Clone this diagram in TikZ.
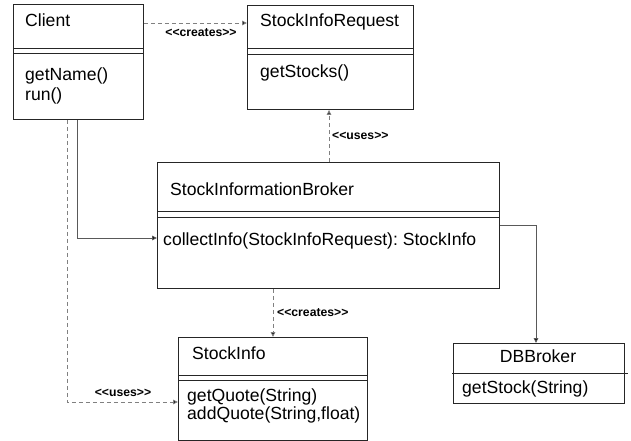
\documentclass[tikz,border=0pt]{standalone}
\usepackage{fontspec}
\setmainfont{Liberation Sans}
\usetikzlibrary{arrows.meta}
\frenchspacing
\begin{document}
\begin{tikzpicture}[x=1pt,y=-1pt,
  box/.style={draw=black!85, line width=0.9pt, inner sep=0pt, anchor=north west},
  sep/.style={draw=black!85, line width=0.9pt},
  txt/.style={anchor=base west, inner sep=0pt, font=\fontsize{17.6}{20}\selectfont},
  ctxt/.style={anchor=base, inner sep=0pt, font=\fontsize{17.6}{20}\selectfont},
  lbl/.style={inner sep=0pt, font=\bfseries\fontsize{12.2}{14}\selectfont},
  dep/.style={draw=black!50, line width=0.9pt, dash pattern=on 4pt off 3pt,
    -{Triangle[length=5pt,width=4.5pt,fill=black]}},
  assoc/.style={draw=black!65, line width=0.9pt,
    -{Triangle[length=5pt,width=4.5pt,fill=black]}}
]
\useasboundingbox (0,0) rectangle (631,441);

% class boxes
\node[box, minimum width=130, minimum height=115] (client) at (13,4) {};
\node[box, minimum width=166, minimum height=104] (sir) at (247,5) {};
\node[box, minimum width=342, minimum height=126] (sib) at (157,162) {};
\node[box, minimum width=189, minimum height=103] (si) at (178,337) {};
\node[box, minimum width=171, minimum height=60] (db) at (453,343) {};

% compartment separators
\draw[sep] (client.west |- 0,48) -- (client.east |- 0,48);
\draw[sep] (client.west |- 0,53) -- (client.east |- 0,53);
\draw[sep] (sir.west |- 0,48) -- (sir.east |- 0,48);
\draw[sep] (sir.west |- 0,54) -- (sir.east |- 0,54);
\draw[sep] (sib.west |- 0,211) -- (sib.east |- 0,211);
\draw[sep] (sib.west |- 0,217) -- (sib.east |- 0,217);
\draw[sep] (si.west |- 0,375) -- (si.east |- 0,375);
\draw[sep] (si.west |- 0,380) -- (si.east |- 0,380);
\draw[sep] ([xshift=-1pt]db.west |- 0,373) -- ([xshift=3pt]db.east |- 0,373);

% names and operations
\node[txt] (clientname) at (25,27) {Client};
\node[txt] (clientop1) at (25,81) {getName()};
\node[txt] (clientop2) at (25,100) {run()};
\node[txt] (sirname) at (260,27) {StockInfoRequest};
\node[txt] (sirop1) at (260,78) {getStocks()};
\node[txt] (sibname) at (170,195) {StockInformationBroker};
\node[txt] (sibop1) at (163,245) {collectInfo(StockInfoRequest): StockInfo};
\node[txt] (siname) at (192,359) {StockInfo};
\node[txt] (siop1) at (187,401) {getQuote(String)};
\node[txt] (siop2) at (187,419) {addQuote(String,float)};
\node[ctxt] (dbname) at (538,362) {DBBroker};
\node[txt] (dbop1) at (462,393) {getStock(String)};

% dependencies
\draw[dep] (client.east |- 0,23) -- (sir.west |- 0,23);
\node[lbl] (lcreates1) at (201,33) {<\kern0pt<creates>\kern0pt>};
\draw[dep] (sib.north -| 329,0) -- (sir.south -| 329,0);
\node[lbl, anchor=west] (luses1) at (332,136) {<\kern0pt<uses>\kern0pt>};
\draw[dep] (sib.south -| 273,0) -- (si.north -| 273,0);
\node[lbl, anchor=west] (lcreates2) at (277,313) {<\kern0pt<creates>\kern0pt>};
\draw[dep] (client.south -| 67,0) |- (si.west |- 0,402);
\node[lbl] (luses2) at (123,393) {<\kern0pt<uses>\kern0pt>};

% associations
\draw[assoc] (client.south -| 77,0) |- (sib.west |- 0,238);
\draw[assoc] (sib.east |- 0,225) -| (db.north -| 536,0);
\end{tikzpicture}
\end{document}
